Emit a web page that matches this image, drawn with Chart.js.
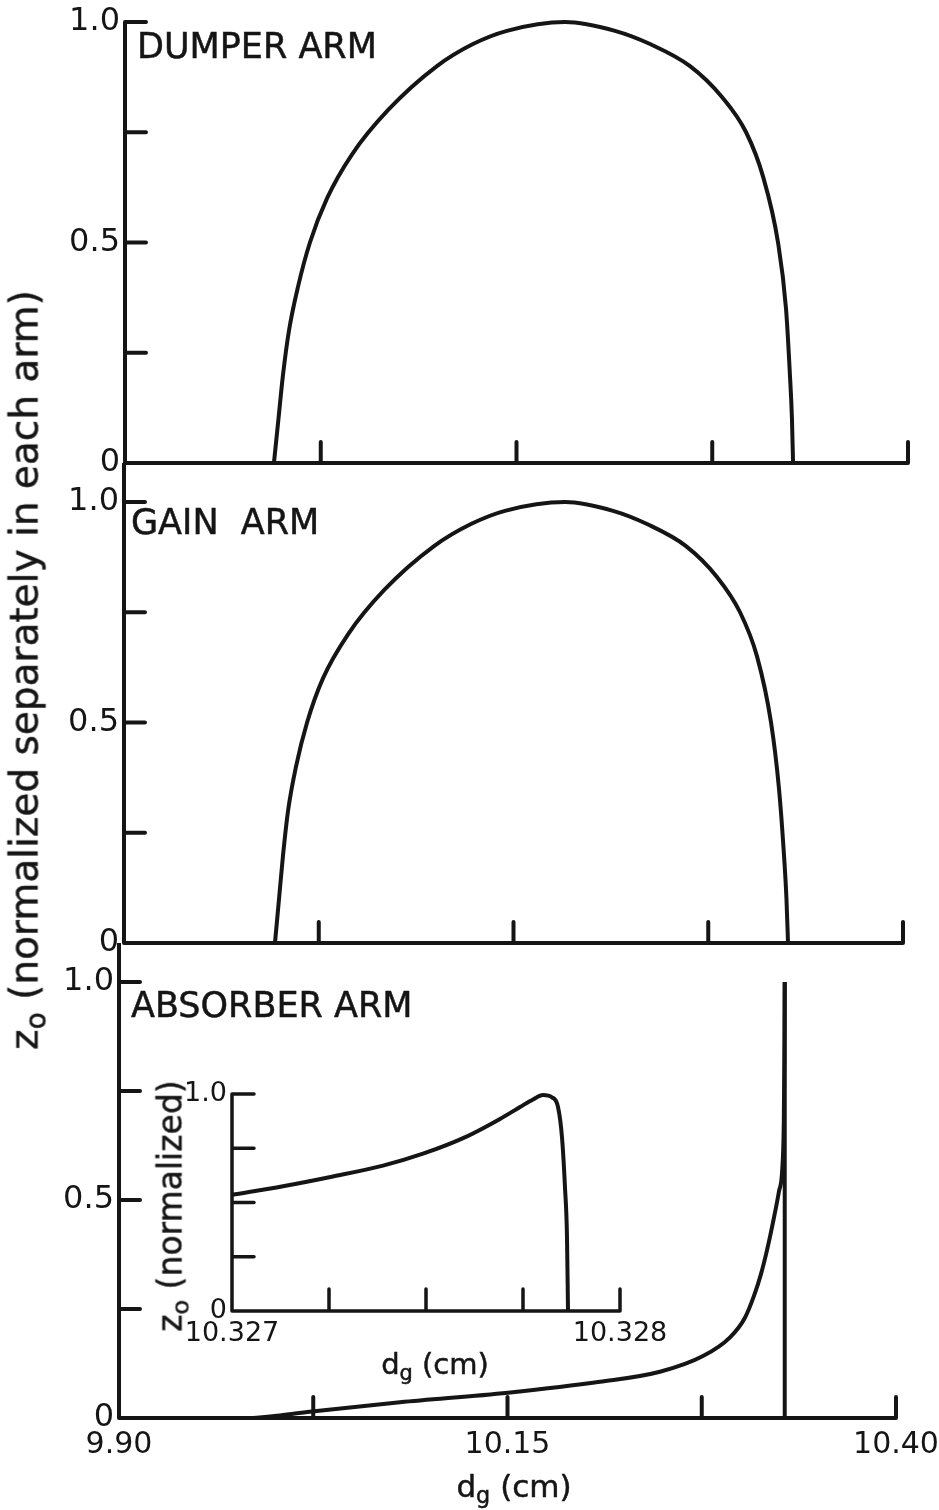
<!DOCTYPE html>
<html>
<head>
<meta charset="utf-8">
<script src="https://cdn.jsdelivr.net/npm/chart.js@4/dist/chart.umd.min.js"></script>
<style>
html,body{margin:0;padding:0;overflow:hidden;background:#fff;}
body{position:relative;width:939px;height:1510px;font-family:"DejaVu Sans",sans-serif;color:#151515;}
canvas{position:absolute;}
.lbl{position:absolute;white-space:pre;line-height:1;-webkit-text-stroke:0.5px #151515;}
.arm{font-size:35px;}
sub{font-size:0.72em;vertical-align:-0.28em;line-height:0;}
.rot{transform:translate(-50%,-50%) rotate(-90deg);}
</style>
</head>
<body>

<canvas id="dumper" width="960" height="493" style="left:0;top:0"></canvas>
<canvas id="gain" width="960" height="510" style="left:0;top:463px"></canvas>
<canvas id="absorber" width="960" height="567" style="left:0;top:943px"></canvas>
<canvas id="inset" width="520" height="310" style="left:170px;top:1070px"></canvas>

<div class="lbl arm" style="left:137px;top:29px">DUMPER ARM</div>
<div class="lbl arm" style="left:131px;top:505px">GAIN  ARM</div>
<div class="lbl arm" style="left:131px;top:988px">ABSORBER ARM</div>

<div class="lbl rot" style="left:24px;top:670px;font-size:39px">z<sub>o</sub> (normalized separately in each arm)</div>
<div class="lbl" style="left:514px;top:1471px;font-size:31px;transform:translateX(-50%)">d<sub>g</sub> (cm)</div>

<div class="lbl rot" style="left:170px;top:1206px;font-size:33px">z<sub>o</sub> (normalized)</div>
<div class="lbl" style="left:435px;top:1350px;font-size:29px;transform:translateX(-50%)">d<sub>g</sub> (cm)</div>

<script>
// main axes
const xTicks = [9.90, 10.025, 10.15, 10.275, 10.40];
const xTickText = ["9.90", "", "10.15", "", "10.40"];
const zTicks = [0, 0.25, 0.5, 0.75, 1.0];
const zTickText = ["0", "", "0.5", "", "1.0"];

// dumper arm
const dumperDg = [9.9951, 9.9980, 10.0009, 10.0047, 10.0105, 10.0181, 10.0290, 10.0450, 10.0679, 10.0992, 10.1222, 10.1439, 10.1810, 10.2129, 10.2353, 10.2608, 10.2812, 10.2966, 10.3074, 10.3170, 10.3221, 10.3246, 10.3259, 10.3266];
const dumperZ = [0, 0.1, 0.2, 0.3, 0.4, 0.5, 0.6, 0.7, 0.8, 0.9, 0.95, 0.98, 1.0, 0.98, 0.95, 0.9, 0.83, 0.75, 0.65, 0.5, 0.35, 0.2, 0.1, 0];

// gain arm
const gainDg = [9.9969, 9.9995, 10.0021, 10.0053, 10.0104, 10.0175, 10.0277, 10.0438, 10.0669, 10.0990, 10.1227, 10.1445, 10.1831, 10.2139, 10.2357, 10.2607, 10.2806, 10.2954, 10.3063, 10.3153, 10.3204, 10.3236, 10.3252, 10.3262];
const gainZ = [0, 0.1, 0.2, 0.3, 0.4, 0.5, 0.6, 0.7, 0.8, 0.9, 0.95, 0.98, 1.0, 0.98, 0.95, 0.9, 0.83, 0.75, 0.65, 0.5, 0.35, 0.2, 0.1, 0];

// absorber arm
const absorberDg = [9.9862, 10.0036, 10.0242, 10.0808, 10.1503, 10.2095, 10.2481, 10.2758, 10.2932, 10.3028, 10.3086, 10.3131, 10.3170, 10.3215, 10.3247, 10.3268, 10.3278, 10.3282, 10.3284];
const absorberZ = [0, 0.006, 0.015, 0.036, 0.058, 0.083, 0.106, 0.142, 0.185, 0.23, 0.28, 0.33, 0.385, 0.46, 0.52, 0.57, 0.68, 0.84, 1.0];
const absorberDropDg = [10.3284, 10.3284];
const absorberDropZ = [1.0, 0];

// inset (absorber, close to the edge)
const insetTicks = [10.327, 10.32725, 10.3275, 10.32775, 10.328];
const insetTickText = ["10.327", "", "", "", "10.328"];
const insetZTickText = ["0", "", "", "", "1.0"];
const insetDg = [10.3270000, 10.3271314, 10.3272603, 10.3273892, 10.3274923, 10.3276057, 10.3276907, 10.3277423, 10.3277758, 10.3278015, 10.3278247, 10.3278402, 10.3278505, 10.3278582, 10.3278634, 10.3278660];
const insetZ = [0.535, 0.575, 0.62, 0.67, 0.725, 0.805, 0.885, 0.94, 0.975, 0.995, 0.985, 0.94, 0.80, 0.57, 0.34, 0];

const INK = "#151515";
const FONT = "DejaVu Sans";

// axis lines + inward tick marks, placed with the chart's own scales
const inkAxes = {
id: "inkAxes",
afterDatasetsDraw(chart, args, o){
const ctx = chart.ctx;
const x = chart.scales.x, y = chart.scales.y;
const x0 = x.getPixelForValue(x.min);
const xr = x.getPixelForValue(x.max);
const y0 = y.getPixelForValue(y.min);
const yt = y.getPixelForValue(y.max);
ctx.save();
ctx.strokeStyle = INK;
ctx.lineWidth = o.width;
ctx.lineCap = "round";
ctx.lineJoin = "round";
ctx.beginPath();
ctx.moveTo(x0, yt - (o.extendTop || 0));
ctx.lineTo(x0, y0);
ctx.lineTo(xr, y0);
x.ticks.forEach(t => {
if(t.value > x.min){
let px = x.getPixelForValue(t.value);
ctx.moveTo(px, y0);
ctx.lineTo(px, y0 - o.tick);
}
});
y.ticks.forEach(t => {
if(t.value > y.min){
let py = y.getPixelForValue(t.value);
ctx.moveTo(x0, py);
ctx.lineTo(x0 + o.tick, py);
}
});
ctx.stroke();
ctx.restore();
}
};

function curve(dg, z, w){
return {
data: dg.map((d, i) => ({x: d, y: z[i]})),
borderColor: INK,
borderWidth: w,
pointRadius: 0,
cubicInterpolationMode: "monotone",
fill: false,
clip: false
};
}

function panel(id, p){
return new Chart(document.getElementById(id), {
type: "line",
data: { datasets: p.sets },
plugins: [inkAxes],
options: {
responsive: false,
animation: false,
events: [],
layout: { autoPadding: false, padding: { top: p.top, right: p.right, left: 0, bottom: 0 } },
plugins: {
legend: { display: false },
tooltip: { enabled: false },
inkAxes: { width: p.axisWidth, tick: p.tick, extendTop: p.extendTop }
},
scales: {
x: {
type: "linear",
min: p.xTicks[0],
max: p.xTicks[p.xTicks.length - 1],
grid: { display: false, drawTicks: false },
border: { display: false },
afterBuildTicks: s => { s.ticks = p.xTicks.map(v => ({value: v})); },
afterFit: s => { s.height = p.xHeight; },
ticks: {
display: p.showX,
autoSkip: false,
maxRotation: 0,
padding: p.xPad,
color: INK,
font: { family: FONT, size: p.xFont },
callback: (v, i) => p.xText[i]
}
},
y: {
type: "linear",
min: 0,
max: 1,
grid: { display: false, drawTicks: false },
border: { display: false },
afterBuildTicks: s => { s.ticks = zTicks.map(v => ({value: v})); },
afterFit: s => { s.width = p.yWidth; },
ticks: {
autoSkip: false,
padding: 5,
color: INK,
font: { family: FONT, size: p.yFont, lineHeight: 1 },
callback: (v, i) => p.yText[i]
}
}
}
}
});
}

panel("dumper", {
sets: [curve(dumperDg, dumperZ, 4)],
top: 22, right: 52, yWidth: 125, xHeight: 30,
xTicks: xTicks, xText: xTickText, yText: zTickText, showX: false, xPad: 10, xFont: 30, yFont: 32,
axisWidth: 4, tick: 21, extendTop: 0
});

panel("gain", {
sets: [curve(gainDg, gainZ, 4)],
top: 39, right: 57, yWidth: 124, xHeight: 30,
xTicks: xTicks, xText: xTickText, yText: zTickText, showX: false, xPad: 10, xFont: 30, yFont: 32,
axisWidth: 4, tick: 21, extendTop: 39
});

panel("absorber", {
sets: [curve(absorberDg, absorberZ, 4), curve(absorberDropDg, absorberDropZ, 4)],
top: 39, right: 64, yWidth: 119, xHeight: 92,
xTicks: xTicks, xText: xTickText, yText: zTickText, showX: true, xPad: 9, xFont: 30, yFont: 32,
axisWidth: 4, tick: 21, extendTop: 39
});

panel("inset", {
sets: [curve(insetDg, insetZ, 4)],
top: 24, right: 70, yWidth: 62, xHeight: 69,
xTicks: insetTicks, xText: insetTickText, yText: insetZTickText, showX: true, xPad: 7, xFont: 27, yFont: 27,
axisWidth: 3.5, tick: 22, extendTop: 0
});
</script>
</body>
</html>
